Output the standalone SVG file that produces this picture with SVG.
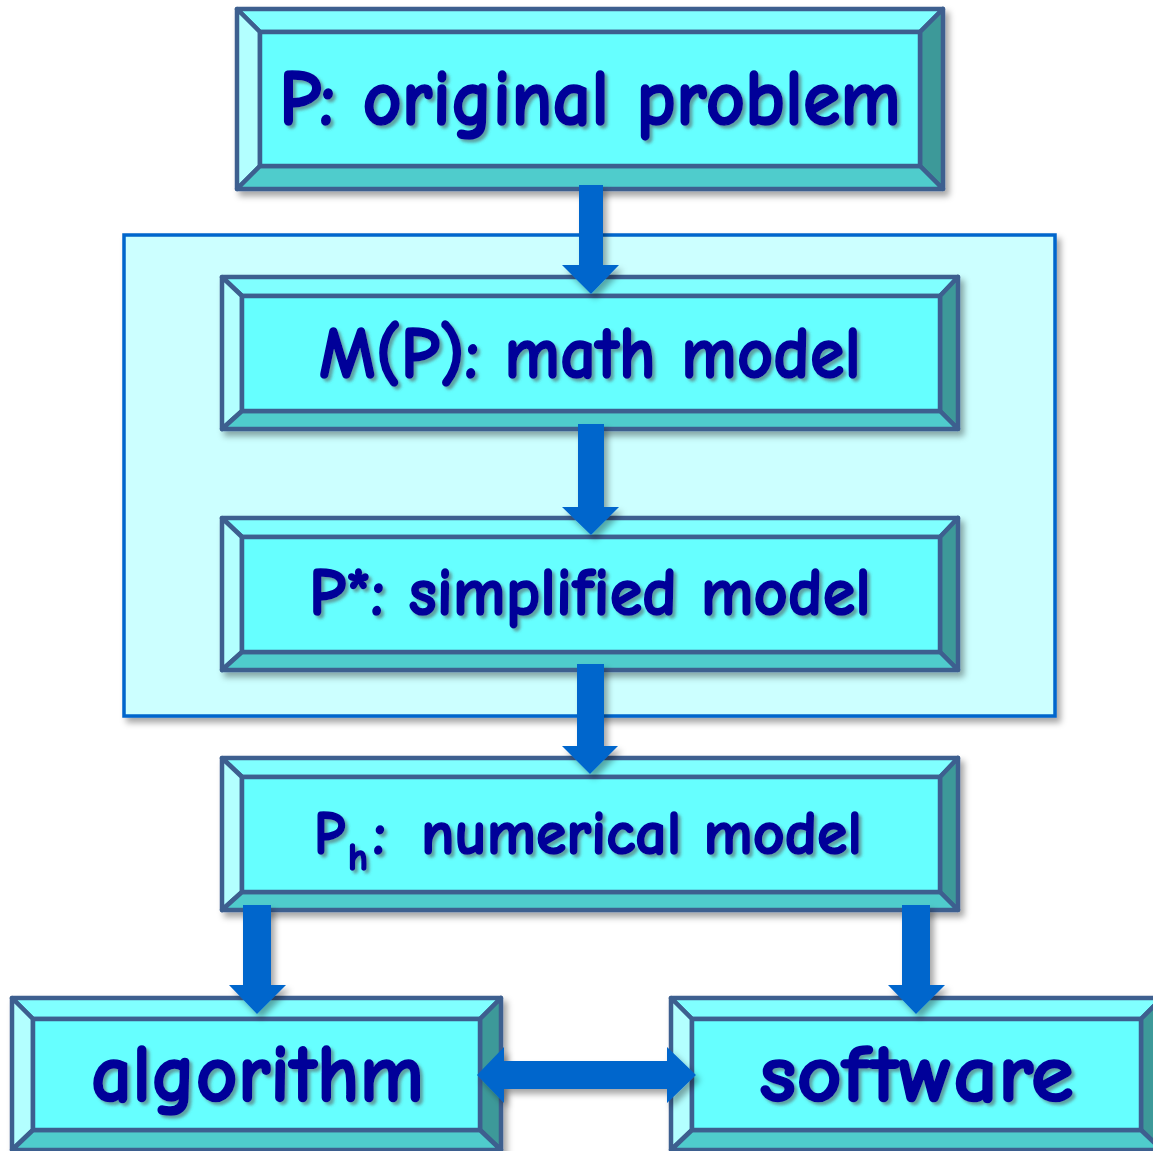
<svg xmlns="http://www.w3.org/2000/svg" width="1153" height="1151" viewBox="0 0 1153 1151">
<defs>
<filter id="sh" x="-10%" y="-10%" width="125%" height="130%">
<feDropShadow dx="4" dy="5" stdDeviation="3" flood-color="#000" flood-opacity="0.35"/>
</filter>
<filter id="tsh" x="-5%" y="-10%" width="110%" height="130%">
<feDropShadow dx="3" dy="3" stdDeviation="1.5" flood-color="#555" flood-opacity="0.55"/>
</filter>
</defs>
<style>
.face{fill:#66FFFF;stroke:#3D5F8F;stroke-width:4.5;stroke-linejoin:round}
.bt{fill:#80FFFF;stroke:#3D5F8F;stroke-width:4.5;stroke-linejoin:round}
.bl{fill:#B3FFFF;stroke:#3D5F8F;stroke-width:4.5;stroke-linejoin:round}
.br{fill:#3D9999;stroke:#3D5F8F;stroke-width:4.5;stroke-linejoin:round}
.bb{fill:#50CCCC;stroke:#3D5F8F;stroke-width:4.5;stroke-linejoin:round}
.lbl{font-family:"Comic Sans MS","Comic Neue","DejaVu Sans",sans-serif;font-weight:bold;fill:#000099;stroke:#000099;stroke-width:1.6;stroke-linejoin:round;filter:url(#tsh)}
.arr{fill:#0066CC;filter:url(#sh)}
</style>
<rect width="1153" height="1151" fill="#FFFFFF"/>

<g id="container">
<rect x="124" y="235" width="931" height="481" fill="#CCFFFF" stroke="#0066CC" stroke-width="3.5" filter="url(#sh)"/>
</g>

<g id="node-original">
<g filter="url(#sh)">
<polygon class="bt" points="237,9 943,9 920,32 260,32"/>
<polygon class="bl" points="237,9 260,32 260,166 237,189"/>
<polygon class="br" points="943,9 943,189 920,166 920,32"/>
<polygon class="bb" points="237,189 260,166 920,166 943,189"/>
<rect class="face" x="260" y="32" width="660" height="134"/>
</g>
<text class="lbl" x="279" y="125" font-size="80" textLength="622" lengthAdjust="spacingAndGlyphs">P: original problem</text>
</g>

<g id="node-math">
<g filter="url(#sh)">
<polygon class="bt" points="222,277 958,277 940,296 242,296"/>
<polygon class="bl" points="222,277 242,296 242,411 222,429"/>
<polygon class="br" points="958,277 958,429 940,411 940,296"/>
<polygon class="bb" points="222,429 242,411 940,411 958,429"/>
<rect class="face" x="242" y="296" width="698" height="115"/>
</g>
<text class="lbl" x="319" y="378" font-size="74" textLength="542" lengthAdjust="spacingAndGlyphs">M(P): math model</text>
</g>

<g id="node-simplified">
<g filter="url(#sh)">
<polygon class="bt" points="222,518 958,518 940,537 242,537"/>
<polygon class="bl" points="222,518 242,537 242,652 222,670"/>
<polygon class="br" points="958,518 958,670 940,652 940,537"/>
<polygon class="bb" points="222,670 242,652 940,652 958,670"/>
<rect class="face" x="242" y="537" width="698" height="115"/>
</g>
<text class="lbl" x="309" y="615" font-size="68" textLength="562" lengthAdjust="spacingAndGlyphs">P*: simplified model</text>
</g>

<g id="node-numerical">
<g filter="url(#sh)">
<polygon class="bt" points="222,758 958,758 940,777 242,777"/>
<polygon class="bl" points="222,758 242,777 242,892 222,910"/>
<polygon class="br" points="958,758 958,910 940,892 940,777"/>
<polygon class="bb" points="222,910 242,892 940,892 958,910"/>
<rect class="face" x="242" y="777" width="698" height="115"/>
</g>
<text class="lbl" font-size="62"><tspan x="314" y="854" textLength="31" lengthAdjust="spacingAndGlyphs">P</tspan><tspan x="348" y="870" font-size="38">h</tspan><tspan x="373" y="854">:</tspan><tspan x="421" y="854" textLength="441" lengthAdjust="spacingAndGlyphs">numerical model</tspan></text>
</g>

<g id="node-algorithm">
<g filter="url(#sh)">
<polygon class="bt" points="12,998 501,998 480,1019 33,1019"/>
<polygon class="bl" points="12,998 33,1019 33,1130 12,1150"/>
<polygon class="br" points="501,998 501,1150 480,1130 480,1019"/>
<polygon class="bb" points="12,1150 33,1130 480,1130 501,1150"/>
<rect class="face" x="33" y="1019" width="447" height="111"/>
</g>
<text class="lbl" x="91" y="1101" font-size="82" textLength="333" lengthAdjust="spacingAndGlyphs">algorithm</text>
</g>

<g id="node-software">
<g filter="url(#sh)">
<polygon class="bt" points="671,998 1162,998 1141,1019 692,1019"/>
<polygon class="bl" points="671,998 692,1019 692,1130 671,1150"/>
<polygon class="br" points="1162,998 1162,1150 1141,1130 1141,1019"/>
<polygon class="bb" points="671,1150 692,1130 1141,1130 1162,1150"/>
<rect class="face" x="692" y="1019" width="449" height="111"/>
</g>
<text class="lbl" x="759" y="1101" font-size="82" textLength="315" lengthAdjust="spacingAndGlyphs">software</text>
</g>

<g id="connectors">
<polygon class="arr" points="579,185 603,185 603,265 619,265 591,294 562,265 579,265"/>
<polygon class="arr" points="578,424 604,424 604,507 619,507 591,535 562,507 578,507"/>
<polygon class="arr" points="577,664 604,664 604,746 618,746 590,774 562,746 577,746"/>
<polygon class="arr" points="243,905 271,905 271,985 286,985 257,1014 229,985 243,985"/>
<polygon class="arr" points="902,905 930,905 930,985 945,985 916,1014 888,985 902,985"/>
<polygon class="arr" points="477,1075 504,1047 504,1061 667,1061 667,1047 696,1075 667,1103 667,1089 504,1089 504,1103"/>
</g>
</svg>
